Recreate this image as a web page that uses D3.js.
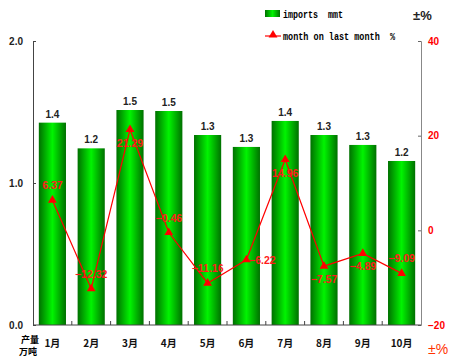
<!DOCTYPE html>
<meta charset="utf-8">
<body style="margin:0;background:#fff">
<script src="https://cdn.jsdelivr.net/npm/d3@7"></script>
<script>

    var width = 450,
        height = 357;

    var months = ["1月", "2月", "3月", "4月", "5月", "6月", "7月", "8月", "9月", "10月"];
    var imports = [1.425, 1.244, 1.514, 1.507, 1.338, 1.254, 1.437, 1.338, 1.268, 1.155];
    var importLabels = ["1.4", "1.2", "1.5", "1.5", "1.3", "1.3", "1.4", "1.3", "1.3", "1.2"];
    var mom = [6.37, -12.32, 21.29, -0.46, -11.16, -6.22, 14.96, -7.57, -4.89, -9.09];
    var momSide = ["a", "a", "b", "a", "a", "r", "b", "b", "b", "a"];
    var leftTicks = [0, 1, 2];
    var rightTicks = [-20, 0, 20, 40];

    var svg = d3.select("body").append("svg")
            .attr("width", width)
            .attr("height", height)
            .style("font-family", "Arial, 'Liberation Sans', sans-serif");

    var x = d3.scaleBand()
            .domain(months)
            .range([33, 421])
            .paddingInner(0.3)
            .paddingOuter(0.15);

    var y = d3.scaleLinear().domain([0, 2]).range([325, 41]);
    var y2 = d3.scaleLinear().domain([-20, 40]).range([325, 41]);

    var grad = svg.append("defs").append("linearGradient")
            .attr("id", "barGrad")
            .attr("x1", "0%").attr("x2", "100%");
    grad.append("stop").attr("offset", "0%").attr("stop-color", "#007000");
    grad.append("stop").attr("offset", "50%").attr("stop-color", "#00f400");
    grad.append("stop").attr("offset", "100%").attr("stop-color", "#007000");

    // bars
    svg.selectAll("rect.bar").data(imports).enter().append("rect")
        .attr("class", "bar")
        .attr("x", function(d, i) { return x(months[i]); })
        .attr("y", function(d) { return y(d); })
        .attr("width", x.bandwidth())
        .attr("height", function(d) { return y(0) - y(d); })
        .attr("fill", "url(#barGrad)");

    svg.selectAll("text.val").data(imports).enter().append("text")
        .attr("x", function(d, i) { return x(months[i]) + x.bandwidth() / 2; })
        .attr("y", function(d) { return y(d) - 5; })
        .attr("text-anchor", "middle")
        .attr("font-size", "10px")
        .attr("font-weight", "bold")
        .attr("fill", "#222")
        .text(function(d, i) { return importLabels[i]; });

    // axes
    var leftAxis = d3.axisLeft(y).tickValues(leftTicks).tickSize(-3).tickPadding(10)
            .tickFormat(d3.format(".1f"));
    var gl = svg.append("g").attr("transform", "translate(33,0)").call(leftAxis);
    gl.select(".domain").attr("stroke", "#444");
    gl.selectAll(".tick line").attr("stroke", "#444");
    gl.selectAll("text").attr("font-size", "10px").attr("font-weight", "bold")
        .attr("fill", "#222").attr("font-family", "Arial, sans-serif");

    var rightAxis = d3.axisRight(y2).tickValues(rightTicks).tickSize(-3).tickPadding(7);
    var gr = svg.append("g").attr("transform", "translate(421,0)").call(rightAxis);
    gr.select(".domain").attr("stroke", "#888");
    gr.selectAll(".tick line").attr("stroke", "#666");
    gr.selectAll("text").attr("font-size", "10px").attr("font-weight", "bold")
        .attr("fill", "#ff0000").attr("font-family", "Arial, sans-serif");

    var bottom = svg.append("g");
    bottom.append("line").attr("x1", 33).attr("x2", 421)
        .attr("y1", y(0)).attr("y2", y(0)).attr("stroke", "#444");
    bottom.selectAll("line.sep").data(months.slice(1)).enter().append("line")
        .attr("x1", function(d) { return x(d) - x.step() * x.paddingInner() / 2; })
        .attr("x2", function(d) { return x(d) - x.step() * x.paddingInner() / 2; })
        .attr("y1", y(0) - 4).attr("y2", y(0))
        .attr("stroke", "#444");
    bottom.selectAll("text.cat").data(months).enter().append("text")
        .attr("x", function(d) { return x(d) + x.bandwidth() / 2; })
        .attr("y", 347)
        .attr("text-anchor", "middle")
        .attr("font-size", "10px")
        .attr("font-weight", "bold")
        .attr("font-family", "'Noto Sans CJK SC', sans-serif")
        .attr("fill", "#111")
        .text(function(d) { return d; });

    svg.append("text").attr("x", 30).attr("y", 343).attr("text-anchor", "middle")
        .attr("font-size", "9px").attr("font-weight", "bold")
        .attr("font-family", "'Noto Sans CJK SC', sans-serif").text("产量");
    svg.append("text").attr("x", 28).attr("y", 355).attr("text-anchor", "middle")
        .attr("font-size", "9px").attr("font-weight", "bold")
        .attr("font-family", "'Noto Sans CJK SC', sans-serif").text("万吨");

    // line series
    var cx = function(i) { return x(months[i]) + x.bandwidth() / 2; };
    var line = d3.line()
            .x(function(d, i) { return cx(i); })
            .y(function(d) { return y2(d); });

    svg.append("path").datum(mom)
        .attr("d", line)
        .attr("fill", "none")
        .attr("stroke", "#ff0000")
        .attr("stroke-width", 1.2);

    var tri = d3.symbol().type(d3.symbolTriangle).size(34);
    svg.selectAll("path.pt").data(mom).enter().append("path")
        .attr("transform", function(d, i) { return "translate(" + cx(i) + "," + y2(d) + ")"; })
        .attr("d", tri)
        .attr("fill", "#ff0000");

    svg.selectAll("text.mom").data(mom).enter().append("text")
        .attr("x", function(d, i) { return momSide[i] == "r" ? cx(i) + 16 : cx(i); })
        .attr("y", function(d, i) {
            var s = momSide[i];
            if (s == "a") return y2(d) - 11;
            if (s == "b") return y2(d) + 17;
            return y2(d) + 4;
        })
        .attr("text-anchor", "middle")
        .attr("font-size", "10.5px")
        .attr("font-weight", "bold")
        .attr("fill", "#ff1a1a")
        .text(function(d) { return d3.format(".2f")(d); });

    // legend
    var lg = svg.append("g");
    lg.append("rect").attr("x", 265).attr("y", 10).attr("width", 15).attr("height", 7)
        .attr("fill", "url(#barGrad)");
    lg.append("text").attr("x", 283).attr("y", 18)
        .attr("font-family", "'Liberation Mono', 'DejaVu Sans Mono', monospace")
        .attr("font-size", "10px").attr("font-weight", "bold")
        .attr("textLength", 60).attr("lengthAdjust", "spacingAndGlyphs")
        .text("imports\u00a0\u00a0mmt");
    lg.append("line").attr("x1", 265).attr("x2", 281).attr("y1", 36).attr("y2", 36)
        .attr("stroke", "#ff0000").attr("stroke-width", 1.2);
    lg.append("path").attr("transform", "translate(273,35)").attr("d", tri).attr("fill", "#ff0000");
    lg.append("text").attr("x", 283).attr("y", 40)
        .attr("font-family", "'Liberation Mono', 'DejaVu Sans Mono', monospace")
        .attr("font-size", "10px").attr("font-weight", "bold")
        .attr("textLength", 112).attr("lengthAdjust", "spacingAndGlyphs")
        .text("month on last month\u00a0\u00a0%");

    svg.append("text").attr("x", 413).attr("y", 20)
        .attr("font-size", "13px").attr("font-weight", "bold").attr("fill", "#222")
        .text("±%");
    svg.append("text").attr("x", 428).attr("y", 354)
        .attr("font-size", "14px").attr("fill", "#ff3300")
        .text("±%");

</script>
